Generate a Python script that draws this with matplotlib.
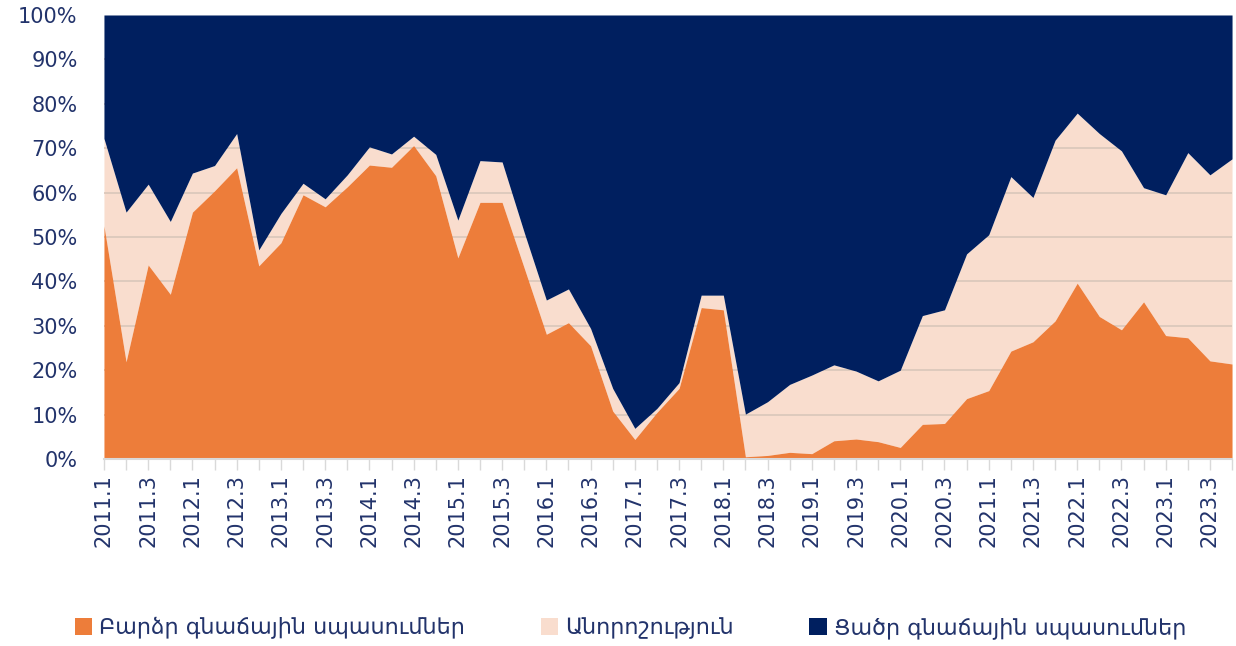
import matplotlib.pyplot as plt
import numpy as np
from matplotlib.patches import Patch

# quarters 2011.1 ... 2023.4
years = list(range(2011, 2024))
quarters = [f"{y}.{q}" for y in years for q in range(1, 5)]

# shares, %
high = [52.5, 21.9, 43.7, 37.1, 55.6, 60.4, 65.6, 43.5, 48.7, 59.5, 56.8, 61.3, 66.2,
        65.7, 70.6, 63.8, 45.3, 57.8, 57.8, 43.0, 28.1, 30.7, 25.5, 10.8, 4.4, 10.5,
        15.9, 34.1, 33.6, 0.5, 0.8, 1.5, 1.2, 4.1, 4.5, 3.9, 2.6, 7.8, 8.0,
        13.6, 15.4, 24.3, 26.4, 31.1, 39.6, 32.1, 29.1, 35.4, 27.8, 27.3, 22.1, 21.4]
uncertain = [19.7, 33.7, 18.2, 16.4, 8.8, 5.7, 7.7, 3.6, 6.6, 2.6, 1.8, 2.7, 4.1,
             3.0, 2.1, 4.8, 8.5, 9.4, 9.1, 8.0, 7.7, 7.6, 3.9, 5.1, 2.5, 0.9,
             1.3, 2.8, 3.3, 9.6, 12.1, 15.3, 17.7, 17.1, 15.3, 13.7, 17.4, 24.5, 25.6,
             32.6, 35.1, 39.3, 32.5, 40.7, 38.3, 41.2, 40.3, 25.7, 31.7, 41.7, 41.9, 46.2]
low = [27.8, 44.4, 38.1, 46.5, 35.6, 33.9, 26.7, 52.9, 44.7, 37.9, 41.4, 36.0, 29.7,
       31.3, 27.3, 31.4, 46.2, 32.8, 33.1, 49.0, 64.2, 61.7, 70.6, 84.1, 93.1, 88.6,
       82.8, 63.1, 63.1, 89.9, 87.1, 83.2, 81.1, 78.8, 80.2, 82.4, 80.0, 67.7, 66.4,
       53.8, 49.5, 36.4, 41.1, 28.2, 22.1, 26.7, 30.6, 38.9, 40.5, 31.0, 36.0, 32.4]

labels = ["Բարձր գնաճային սպասումներ", "Անորոշություն", "Ցածր գնաճային սպասումներ"]
colors = ["#ED7D3A", "#F9DDCE", "#001F5F"]
text_color = "#22336B"

plt.rcParams['font.family'] = ['DejaVu Sans']

fig = plt.figure(figsize=(12.36, 6.46), dpi=100)
ax = fig.add_axes([0.0841, 0.2895, 0.9127, 0.6873])

x = np.arange(len(quarters))
h = np.array(high)
u = np.array(uncertain)
l = np.array(low)

# beige under the grid, orange and navy over it
ax.fill_between(x, h, h + u, color=colors[1], lw=0, zorder=1)
ax.fill_between(x, 0, h, color=colors[0], lw=0, zorder=3)
ax.fill_between(x, h + u, h + u + l, color=colors[2], lw=0, zorder=3)

for yv in range(10, 100, 10):
    ax.axhline(yv, color="#DCC8BC", lw=1.3, zorder=2)

ax.set_xlim(0, len(quarters) - 1)
ax.set_ylim(0, 100)

ax.set_yticks(np.arange(0, 101, 10))
ax.set_yticklabels([f"{v}%" for v in range(0, 101, 10)], fontsize=15, color=text_color)
ax.tick_params(axis='y', length=0, pad=19)

ax.set_xticks(x)
ax.set_xticklabels([q if i % 2 == 0 else "" for i, q in enumerate(quarters)],
                   rotation=90, fontsize=15, color=text_color)
ax.tick_params(axis='x', length=8, width=1, color="#D9D9D9", pad=3)

for s in ["top", "right", "left"]:
    ax.spines[s].set_visible(False)
ax.spines["bottom"].set_color("#D9D9D9")
ax.spines["bottom"].set_linewidth(1.5)
ax.spines["bottom"].set_zorder(4)

handles = [Patch(facecolor=c, edgecolor="none") for c in colors]
leg = fig.legend(handles, labels, loc="center", bbox_to_anchor=(0.51, 0.028), ncol=3,
                 frameon=False, fontsize=16, handlelength=0.8, handleheight=0.8,
                 handletextpad=0.3, columnspacing=3.4, labelcolor=text_color)

plt.savefig("out.png", dpi=100)
